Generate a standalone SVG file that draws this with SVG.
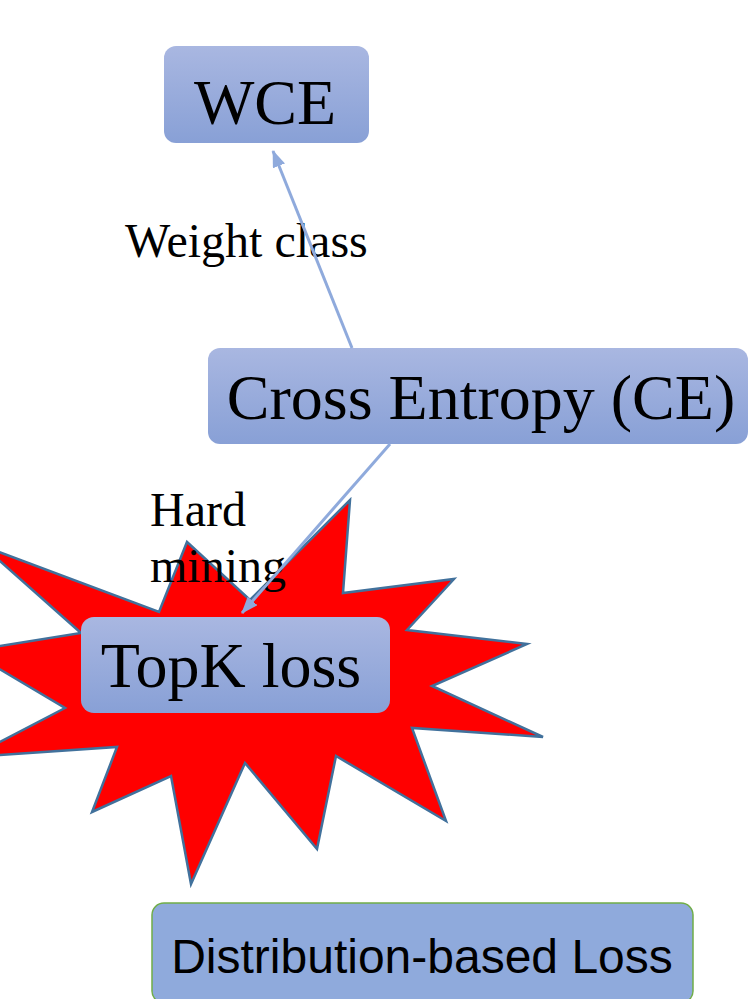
<svg xmlns="http://www.w3.org/2000/svg" width="748" height="999" viewBox="0 0 748 999">
  <defs>
    <linearGradient id="boxFill" x1="0" y1="0" x2="0" y2="1">
      <stop offset="0" stop-color="#a9b7e1"/>
      <stop offset="1" stop-color="#88a0d6"/>
    </linearGradient>
    <marker id="arrowHead" markerUnits="userSpaceOnUse" markerWidth="17" markerHeight="13" viewBox="0 0 17 13" refX="16" refY="6.5" orient="auto">
      <path d="M0,0 L17,6.5 L0,13 z" fill="#8faadc"/>
    </marker>
    <style>
      .box { fill: url(#boxFill); }
      .serif { font-family: "Liberation Serif", "Times New Roman", serif; fill: #000; }
      .big { font-size: 64px; }
      .label { font-size: 48px; }
      .conn { stroke: #8faadc; stroke-width: 3; fill: none; marker-end: url(#arrowHead); }
    </style>
  </defs>

  <!-- burst behind the TopK node -->
  <polygon id="burst" fill="#ff0000" stroke="#41719c" stroke-width="2.5" stroke-linejoin="miter"
    points="350,500 343,593 454,579 407,630 527,644 432,686 543,737 412,728 446,821 336,756 317,849 245,763 191,884 171,776 92,812 117,747 -29,757 65,708 -31,651 81,633 -17,546 159,612 187,542 250,600"/>

  <g id="node-wce">
    <rect class="box" x="164" y="46" width="205" height="97" rx="12"/>
    <text class="serif big" x="265" y="124" text-anchor="middle">WCE</text>
  </g>

  <g id="node-ce">
    <rect class="box" x="208" y="348" width="540" height="96" rx="12"/>
    <text class="serif big" x="481" y="419" text-anchor="middle">Cross Entropy (CE)</text>
  </g>

  <g id="node-topk">
    <rect class="box" x="81" y="617" width="309" height="96" rx="13"/>
    <text class="serif big" x="231" y="687" text-anchor="middle">TopK loss</text>
  </g>

  <g id="node-distribution">
    <rect x="152" y="903" width="541" height="100" rx="12" fill="#8faadc" stroke="#70ad47" stroke-width="1.5"/>
    <text x="422" y="973" text-anchor="middle" font-family="'Liberation Sans', Arial, sans-serif" font-size="48" fill="#000">Distribution-based Loss</text>
  </g>

  <!-- edge labels -->
  <g id="edge-labels">
    <text class="serif label" x="125" y="257">Weight class</text>
    <text class="serif label" x="150" y="526">Hard</text>
    <text class="serif label" x="150" y="582">mining</text>
  </g>

  <g id="connectors">
    <line class="conn" x1="352" y1="348" x2="273" y2="151"/>
    <line class="conn" x1="390" y1="444" x2="242" y2="613"/>
  </g>
</svg>
